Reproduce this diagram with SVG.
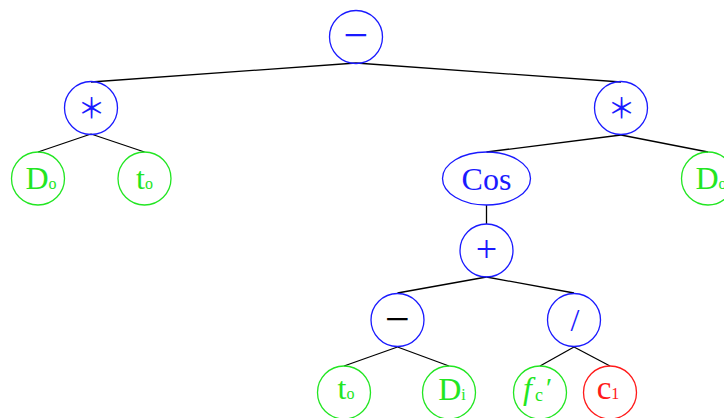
<svg xmlns="http://www.w3.org/2000/svg" width="724" height="418" viewBox="0 0 724 418">
<style>
.op{fill:none;stroke:#1a1aff;stroke-width:1.3}
.lf{fill:none;stroke:#22e622;stroke-width:1.3}
.rd{fill:none;stroke:#ff1a1a;stroke-width:1.3}
.e{stroke:#000;stroke-width:1.3;fill:none}
text{font-family:"Liberation Serif","Times New Roman",serif;font-size:32px}
.tb{fill:#1a1aff}
.tg{fill:#22e622}
.tr{fill:#ff1a1a}
.sym{font-size:38px;text-anchor:middle}
.minus{font-size:44px;text-anchor:middle}
.ast{font-family:"Noto Sans CJK SC",sans-serif;font-size:28px;text-anchor:middle}
.sub{font-size:16px}
</style>
<rect width="724" height="418" fill="#fff"/>
<g id="edges">
<line class="e" x1="356" y1="63" x2="91" y2="82"/>
<line class="e" x1="356" y1="63" x2="621" y2="82"/>
<line class="e" x1="91" y1="134" x2="38" y2="152"/>
<line class="e" x1="91" y1="134" x2="144.5" y2="152"/>
<line class="e" x1="621" y1="135" x2="486.5" y2="152"/>
<line class="e" x1="621" y1="135" x2="708" y2="152"/>
<line class="e" x1="486.5" y1="205" x2="486.5" y2="224"/>
<line class="e" x1="486.5" y1="277" x2="397.5" y2="293"/>
<line class="e" x1="486.5" y1="277" x2="574" y2="293"/>
<line class="e" x1="397.5" y1="347" x2="344" y2="366"/>
<line class="e" x1="397.5" y1="347" x2="449" y2="366"/>
<line class="e" x1="574" y1="347" x2="540" y2="366"/>
<line class="e" x1="574" y1="347" x2="610" y2="366"/>
</g>
<g id="n-minus-top">
<circle class="op" cx="356" cy="37" r="26.5"/>
<text class="tb minus" x="356" y="50">−</text>
</g>
<g id="n-mul-left">
<circle class="op" cx="91" cy="108" r="26.5"/>
<text class="tb ast" x="91.5" y="118.5">＊</text>
</g>
<g id="n-Do-left">
<circle class="lf" cx="38" cy="178.5" r="26.5"/>
<text class="tg" x="41" y="188.5" text-anchor="middle">D<tspan class="sub">o</tspan></text>
</g>
<g id="n-to-left">
<circle class="lf" cx="144.5" cy="178.5" r="26.5"/>
<text class="tg" x="144.5" y="188.5" text-anchor="middle">t<tspan class="sub">o</tspan></text>
</g>
<g id="n-mul-right">
<circle class="op" cx="621" cy="108" r="26.5"/>
<text class="tb ast" x="621.5" y="118.5">＊</text>
</g>
<g id="n-cos">
<ellipse class="op" cx="486.5" cy="178.5" rx="44" ry="26.5"/>
<text class="tb" x="486.5" y="190" text-anchor="middle">Cos</text>
</g>
<g id="n-Do-right">
<circle class="lf" cx="708" cy="178.5" r="26.5"/>
<text class="tg" x="711" y="188.5" text-anchor="middle">D<tspan class="sub">o</tspan></text>
</g>
<g id="n-plus">
<circle class="op" cx="486.5" cy="250.5" r="26.5"/>
<text class="tb sym" x="486.5" y="262">+</text>
</g>
<g id="n-minus-low">
<circle class="op" cx="397.5" cy="320" r="26.5"/>
<text class="minus" x="397.5" y="334" fill="#000">−</text>
</g>
<g id="n-div">
<circle class="op" cx="574" cy="320" r="26.5"/>
<text class="tb" x="575" y="331" text-anchor="middle" font-size="30">/</text>
</g>
<g id="n-to-low">
<circle class="lf" cx="344" cy="392.5" r="26.5"/>
<text class="tg" x="346" y="399" text-anchor="middle">t<tspan class="sub">o</tspan></text>
</g>
<g id="n-Di">
<circle class="lf" cx="449" cy="392.5" r="26.5"/>
<text class="tg" x="452" y="399.5" text-anchor="middle">D<tspan class="sub">i</tspan></text>
</g>
<g id="n-fc">
<circle class="lf" cx="540" cy="392.5" r="26.5"/>
<text class="tg"><tspan x="523" y="399" font-style="italic">f</tspan><tspan x="535" y="400.5" font-size="18">c</tspan><tspan x="546" y="397" font-size="28">′</tspan></text>
</g>
<g id="n-c1">
<circle class="rd" cx="610" cy="392.5" r="26.5"/>
<text class="tr" x="608" y="398.5" text-anchor="middle"><tspan font-size="33">c</tspan><tspan class="sub">1</tspan></text>
</g>
</svg>
